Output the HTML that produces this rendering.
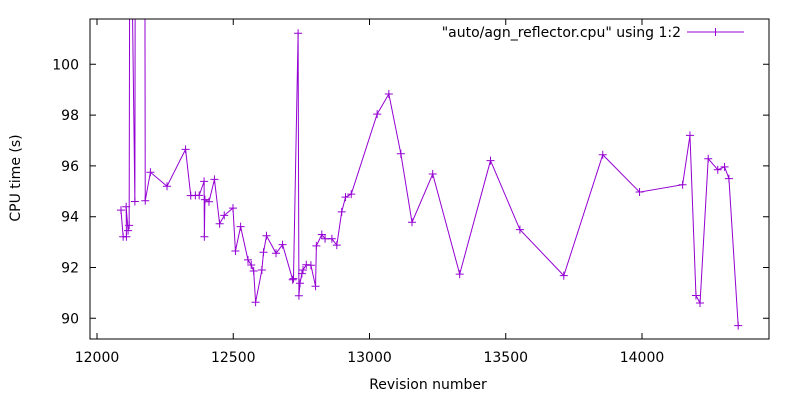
<!DOCTYPE html>
<html><head><meta charset="utf-8"><style>
body{margin:0;background:#fff}
svg text{font-family:"DejaVu Sans","Liberation Sans",sans-serif;font-size:14px;fill:#000}
</style></head><body>
<svg id="chart" width="800" height="400" xmlns="http://www.w3.org/2000/svg">
<defs><clipPath id="clip"><rect x="90" y="19" width="679" height="320"/></clipPath></defs>
<rect width="800" height="400" fill="#fff"/>
<g id="axes"></g>
<g id="series" clip-path="url(#clip)"></g>
<rect x="90" y="19" width="679" height="320" fill="none" stroke="#000" stroke-width="1"/>
<text x="428" y="389" text-anchor="middle">Revision number</text>
<text transform="translate(20,178) rotate(-90)" text-anchor="middle">CPU time (s)</text>
<g>
<text x="681" y="37" text-anchor="end">"auto/agn_reflector.cpu" using 1:2</text>
<line x1="687" y1="32" x2="744" y2="32" stroke="#9400d3"/>
<path d="M711.5 32h8M715.5 28v8" stroke="#9400d3"/>
</g>
</svg>
<script>
const revisions=[12088,12096,12108,12107,12114,12118,12121,12139,12141,12142,12143,12175,12177,12196,12257,12325,12344,12361,12375,12393,12394,12396,12411,12431,12450,12467,12499,12508,12527,12554,12566,12575,12582,12605,12611,12622,12657,12681,12718,12721,12738,12741,12745,12752,12756,12768,12785,12802,12805,12825,12837,12862,12880,12898,12912,12933,13028,13071,13115,13156,13232,13331,13444,13552,13713,13856,13991,14149,14176,14198,14213,14243,14278,14303,14319,14353];
const cpuTimes=[94.26,93.21,93.21,94.39,93.45,93.66,110,94.6,110,110,110,110,94.63,95.75,95.2,96.65,94.83,94.84,94.84,95.39,93.21,94.67,94.59,95.47,93.72,94.05,94.34,92.65,93.61,92.3,92.1,91.86,90.63,91.9,92.6,93.25,92.56,92.9,91.52,91.56,101.22,90.89,91.38,91.76,91.9,92.11,92.09,91.26,92.85,93.3,93.13,93.13,92.88,94.19,94.77,94.89,98.04,98.83,96.48,93.78,95.68,91.74,96.21,93.49,91.68,96.44,94.97,95.26,97.2,90.9,90.6,96.28,95.85,95.96,95.5,89.71];
const xTicks=[12000,12500,13000,13500,14000];
const yTicks=[90,92,94,96,98,100];
const NS="http://www.w3.org/2000/svg";
function xs(v){return 97+(v-12000)*0.2725;}
function ys(v){return 318.3-(v-90)*25.4;}
const axes=document.getElementById('axes');
xTicks.forEach(t=>{
  const x=xs(t);
  const p=document.createElementNS(NS,'path');
  p.setAttribute('d',`M${x} 339v-6M${x} 19v6`);p.setAttribute('stroke','#000');
  
  
  axes.appendChild(p);
  const tx=document.createElementNS(NS,'text');
  tx.setAttribute('x',x);tx.setAttribute('y',362);tx.setAttribute('text-anchor','middle');
  tx.textContent=t;
  
  
  axes.appendChild(tx);
});
yTicks.forEach(t=>{
  const y=ys(t);
  const p=document.createElementNS(NS,'path');
  p.setAttribute('d',`M90 ${y}h6M769 ${y}h-6`);p.setAttribute('stroke','#000');
  
  
  axes.appendChild(p);
  const tx=document.createElementNS(NS,'text');
  tx.setAttribute('x',79);tx.setAttribute('y',y+5);tx.setAttribute('text-anchor','end');
  tx.textContent=t;
  
  
  axes.appendChild(tx);
});
const g=document.getElementById('series');
const line=document.createElementNS(NS,'polyline');
line.setAttribute('points',revisions.map((r,i)=>xs(r)+','+ys(cpuTimes[i])).join(' '));
line.setAttribute('fill','none');line.setAttribute('stroke','#9400d3');line.setAttribute('stroke-width','1');


g.appendChild(line);
revisions.forEach((r,i)=>{
  const x=xs(r),y=ys(cpuTimes[i]);
  const m=document.createElementNS(NS,'path');
  m.setAttribute('d',`M${x-4} ${y}h8M${x} ${y-4}v8`);m.setAttribute('stroke','#9400d3');
  
  
  g.appendChild(m);
});
</script>
</body></html>
